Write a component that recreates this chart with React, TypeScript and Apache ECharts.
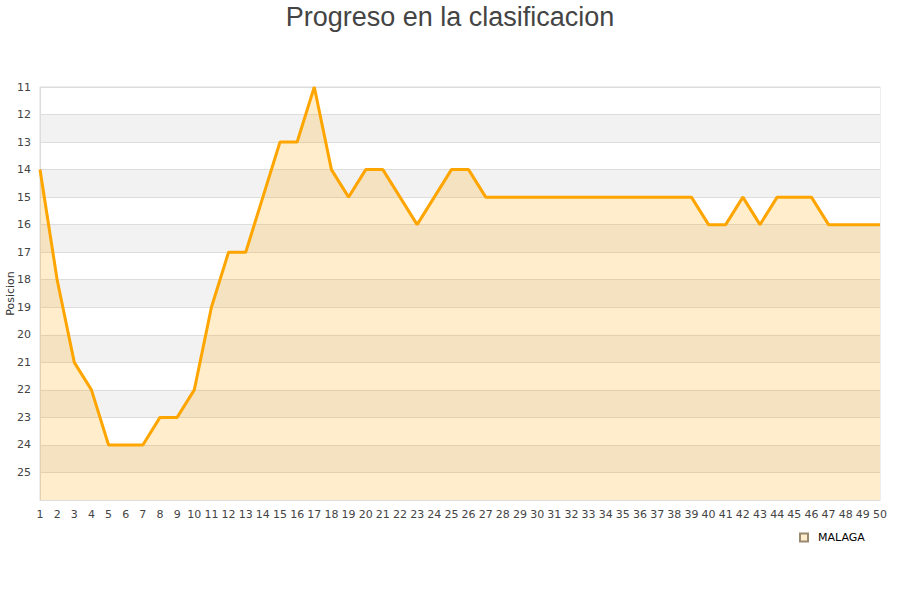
import React, { useEffect, useRef } from "react";
import * as echarts from "echarts";

const jornadas: string[] = [
  "1","2","3","4","5","6","7","8","9","10",
  "11","12","13","14","15","16","17","18","19","20",
  "21","22","23","24","25","26","27","28","29","30",
  "31","32","33","34","35","36","37","38","39","40",
  "41","42","43","44","45","46","47","48","49","50",
];

const malaga: number[] = [
  14, 18, 21, 22, 24, 24, 24, 23, 23, 22,
  19, 17, 17, 15, 13, 13, 11, 14, 15, 14,
  14, 15, 16, 15, 14, 14, 15, 15, 15, 15,
  15, 15, 15, 15, 15, 15, 15, 15, 15, 16,
  16, 15, 16, 15, 15, 15, 16, 16, 16, 16,
];

const seriesName = "MALAGA";
const titleText = "Progreso en la clasificacion";
const yAxisName = "Posicion";

export default function App() {
  const ref = useRef<HTMLDivElement>(null);
  useEffect(() => {
    if (!ref.current) return;
    const chart = echarts.init(ref.current, undefined, { renderer: "svg" });
    chart.setOption({
      animation: false,
      backgroundColor: "#ffffff",
      title: {
        text: titleText,
        left: "center",
        top: -2,
        textStyle: {
          fontFamily: "Liberation Sans, Arial, sans-serif",
          fontSize: 27,
          fontWeight: "normal",
          color: "#444444",
        },
      },
      legend: {
        data: [{ name: seriesName, icon: "rect" }],
        left: 794,
        top: 527,
        itemWidth: 8,
        itemHeight: 8,
        itemGap: 6,
        textStyle: {
          fontFamily: "DejaVu Sans, sans-serif",
          fontSize: 11,
          color: "#000000",
          padding: [0, 0, 0, 5],
        },
      },
      grid: {
        left: 40,
        right: 20,
        top: 87,
        bottom: 100,
        containLabel: false,
        outerBoundsMode: "none",
        show: true,
        borderColor: "#dddddd",
        borderWidth: 1,
        backgroundColor: "transparent",
      },
      xAxis: {
        type: "category",
        data: jornadas,
        boundaryGap: false,
        axisLine: { lineStyle: { color: "#dddddd" } },
        axisTick: { show: false },
        axisLabel: {
          interval: 0,
          margin: 9,
          fontFamily: "DejaVu Sans, sans-serif",
          fontSize: 11,
          color: "#444444",
        },
        splitLine: { show: false },
      },
      yAxis: {
        type: "value",
        inverse: true,
        min: 11,
        max: 26,
        interval: 1,
        name: yAxisName,
        nameLocation: "middle",
        nameGap: 24,
        nameMoveOverlap: false,
        nameTextStyle: {
          fontFamily: "DejaVu Sans, sans-serif",
          fontSize: 11,
          color: "#333333",
        },
        axisLine: { show: true, lineStyle: { color: "#dddddd" } },
        axisTick: { show: false },
        axisLabel: {
          margin: 9,
          fontFamily: "DejaVu Sans, sans-serif",
          fontSize: 11,
          color: "#444444",
          formatter: (v: number) => (v >= 26 ? "" : String(v)),
        },
        splitLine: { show: true, lineStyle: { color: "#dddddd", width: 1 } },
        splitArea: { show: true, areaStyle: { color: ["#ffffff", "#f2f2f2"] } },
      },
      series: [
        {
          name: seriesName,
          type: "line",
          data: malaga,
          symbol: "none",
          lineStyle: { color: "#FFA500", width: 3 },
          itemStyle: { color: "#FFEDCC", borderColor: "#9a8a70", borderWidth: 1 },
          areaStyle: { color: "#FFA500", opacity: 0.2, origin: "end" },
        },
      ],
    });
    return () => chart.dispose();
  }, []);
  return <div ref={ref} style={{ width: 900, height: 600, position: "absolute", left: 0, top: 0 }} />;
}
